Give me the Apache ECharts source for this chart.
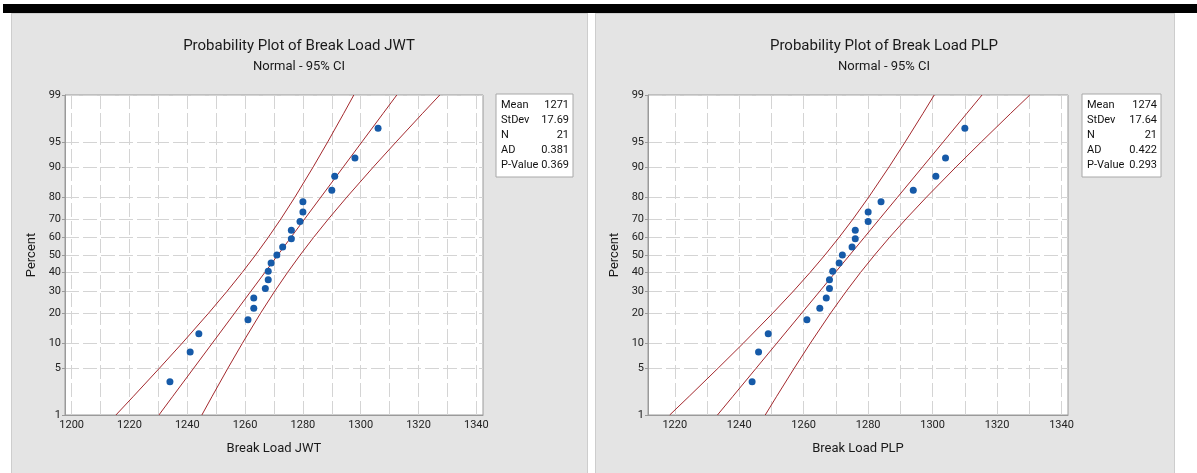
<!DOCTYPE html>
<html>
<head>
<meta charset="utf-8">
<title>Probability Plot of Break Load</title>
<script src="https://cdn.jsdelivr.net/npm/echarts@6/dist/echarts.min.js"></script>
<style>
html, body { margin: 0; padding: 0; background: #fff; }
#wrap { position: relative; width: 1197px; height: 473px; overflow: hidden; }
.bar { position: absolute; left: 3px; top: 4px; width: 1194px; height: 9px; background: #000; }
.panel { position: absolute; top: 13px; height: 470px; background: #e4e4e4; border: 1px solid #cdcdcd; box-sizing: border-box; }
#chart { position: absolute; left: 0; top: 0; width: 1197px; height: 473px; }
</style>
</head>
<body>
<div id="wrap">
  <div class="bar"></div>
  <div class="panel" style="left:11px;width:577px;"></div>
  <div class="panel" style="left:595px;width:580px;"></div>
  <div id="chart"></div>
</div>
<script>
// plotting positions (median rank) for n = 21, in percent
var rankPct = [3.27, 7.94, 12.62, 17.29, 21.96, 26.64, 31.31, 35.98, 40.65, 45.33, 50.00,
               54.67, 59.35, 64.02, 68.69, 73.36, 78.04, 82.71, 87.38, 92.06, 96.73];

// sorted break loads
var jwtLoad = [1234, 1241, 1244, 1261, 1263, 1263, 1267, 1268, 1268, 1269, 1271,
               1273, 1276, 1276, 1279, 1280, 1280, 1290, 1291, 1298, 1306];
var plpLoad = [1244, 1246, 1249, 1261, 1265, 1267, 1268, 1268, 1269, 1271, 1272,
               1275, 1276, 1276, 1280, 1280, 1284, 1294, 1301, 1304, 1310];

// fitted line and 95% CI bands, read at these percents
var bandPct  = [1, 2, 5, 10, 20, 30, 40, 50, 60, 70, 80, 90, 95, 98, 99];
var jwtFit   = [1230.18, 1235.00, 1242.23, 1248.66, 1256.44, 1262.05, 1266.85, 1271.33, 1275.81, 1280.61, 1286.22, 1294.00, 1300.43, 1307.66, 1312.48];
var jwtLower = [1215.32, 1221.39, 1230.39, 1238.24, 1247.46, 1253.82, 1259.01, 1263.61, 1267.97, 1272.38, 1277.24, 1283.58, 1288.59, 1294.05, 1297.62];
var jwtUpper = [1245.04, 1248.61, 1254.07, 1259.08, 1265.42, 1270.28, 1274.69, 1279.05, 1283.65, 1288.84, 1295.20, 1304.42, 1312.27, 1321.27, 1327.34];
var plpFit   = [1233.25, 1238.06, 1245.27, 1251.68, 1259.44, 1265.04, 1269.82, 1274.29, 1278.76, 1283.54, 1289.14, 1296.90, 1303.31, 1310.52, 1315.33];
var plpLower = [1218.43, 1224.49, 1233.46, 1241.29, 1250.48, 1256.83, 1262.00, 1266.59, 1270.94, 1275.33, 1280.18, 1286.51, 1291.50, 1296.95, 1300.51];
var plpUpper = [1248.07, 1251.63, 1257.08, 1262.07, 1268.40, 1273.25, 1277.64, 1281.99, 1286.58, 1291.75, 1298.10, 1307.29, 1315.12, 1324.09, 1330.15];

// axis ticks
var pctTicks   = [1, 5, 10, 20, 30, 40, 50, 60, 70, 80, 90, 95, 99];
var jwtXLabels = [1200, 1220, 1240, 1260, 1280, 1300, 1320, 1340];
var jwtXGrid   = [1200, 1210, 1220, 1230, 1240, 1250, 1260, 1270, 1280, 1290, 1300, 1310, 1320, 1330, 1340];
var plpXLabels = [1220, 1240, 1260, 1280, 1300, 1320, 1340];
var plpXGrid   = [1220, 1230, 1240, 1250, 1260, 1270, 1280, 1290, 1300, 1310, 1320, 1330, 1340];

// summary tables
var statNames = ['Mean', 'StDev', 'N', 'AD', 'P-Value'];
var jwtStats  = ['1271', '17.69', '21', '0.381', '0.369'];
var plpStats  = ['1274', '17.64', '21', '0.422', '0.293'];

var FONT = 'Roboto, "Noto Sans", sans-serif';
var RED = '#a3282d';
var BLUE = '#165aa8';

// inverse standard normal (Acklam) - probability scale for the y axis
function normInv(p) {
  var a = [-3.969683028665376e+01, 2.209460984245205e+02, -2.759285104469687e+02, 1.383577518672690e+02, -3.066479806614716e+01, 2.506628277459239e+00];
  var b = [-5.447609879822406e+01, 1.615858368580409e+02, -1.556989798598866e+02, 6.680131188771972e+01, -1.328068155288572e+01];
  var c = [-7.784894002430293e-03, -3.223964580411365e-01, -2.400758276018191e+00, -2.549732539343734e+00, 4.374664141464968e+00, 2.938163982698783e+00];
  var d = [7.784695709041462e-03, 3.224671290700398e-01, 2.445134137142996e+00, 3.754408661907416e+00];
  var pl = 0.02425, q, r;
  if (p < pl) {
    q = Math.sqrt(-2 * Math.log(p));
    return (((((c[0]*q+c[1])*q+c[2])*q+c[3])*q+c[4])*q+c[5]) / ((((d[0]*q+d[1])*q+d[2])*q+d[3])*q+1);
  }
  if (p > 1 - pl) {
    q = Math.sqrt(-2 * Math.log(1 - p));
    return -(((((c[0]*q+c[1])*q+c[2])*q+c[3])*q+c[4])*q+c[5]) / ((((d[0]*q+d[1])*q+d[2])*q+d[3])*q+1);
  }
  q = p - 0.5; r = q * q;
  return (((((a[0]*r+a[1])*r+a[2])*r+a[3])*r+a[4])*r+a[5])*q / (((((b[0]*r+b[1])*r+b[2])*r+b[3])*r+b[4])*r+1);
}
function z(pct) { return normInv(pct / 100); }

var zTicks = pctTicks.map(z);
var zMin = z(1), zMax = z(99);

function pctLabel(v) {
  for (var i = 0; i < zTicks.length; i++) {
    if (Math.abs(zTicks[i] - v) < 1e-4) return String(pctTicks[i]);
  }
  return '';
}

function pairs(xs, ps) {
  return xs.map(function (x, i) { return [x, z(ps[i])]; });
}

var gridLine = { show: true, lineStyle: { color: '#d4d4d4', width: 1, type: [14, 4] } };
var axisLineStyle = { show: true, onZero: false, lineStyle: { color: '#9a9a9a', width: 1 } };

function makeX(idx, min, max, grid, labels, name) {
  return {
    type: 'value', gridIndex: idx, min: min, max: max,
    name: name, nameLocation: 'middle', nameGap: 27,
    nameTextStyle: { fontFamily: FONT, fontSize: 13, color: '#1a1a1a' },
    axisLine: axisLineStyle,
    axisTick: { show: false, customValues: grid },
    axisLabel: {
      customValues: labels, fontFamily: FONT, fontSize: 11, color: '#222', margin: 5,
      formatter: function (v) { return String(v); }
    },
    splitLine: gridLine
  };
}
function makeY(idx) {
  return {
    type: 'value', gridIndex: idx, min: zMin, max: zMax,
    name: 'Percent', nameLocation: 'middle', nameGap: 27, nameRotate: 90,
    nameTextStyle: { fontFamily: FONT, fontSize: 13, color: '#1a1a1a' },
    axisLine: axisLineStyle,
    axisTick: { show: true, length: 3, customValues: zTicks, lineStyle: { color: '#9a9a9a' } },
    axisLabel: { customValues: zTicks, formatter: pctLabel, fontFamily: FONT, fontSize: 11, color: '#222', margin: 4 },
    splitLine: gridLine
  };
}
function lineSeries(idx, xs) {
  return {
    type: 'line', xAxisIndex: idx, yAxisIndex: idx,
    data: pairs(xs, bandPct), showSymbol: false, silent: true,
    lineStyle: { color: RED, width: 1 }, z: 3
  };
}
function dotSeries(idx, xs) {
  return {
    type: 'scatter', xAxisIndex: idx, yAxisIndex: idx,
    data: pairs(xs, rankPct), symbol: 'circle', symbolSize: 7,
    itemStyle: { color: BLUE, opacity: 1 }, z: 4
  };
}

function statBox(left, top, width, height, values) {
  var els = [{
    type: 'rect', shape: { x: left, y: top, width: width, height: height },
    style: { fill: '#fff', stroke: '#a8a8a8', lineWidth: 1 }
  }];
  statNames.forEach(function (nm, i) {
    var y = top + 11 + i * 15;
    els.push({ type: 'text', x: left + 5, y: y,
      style: { text: nm, font: '11px ' + FONT, fill: '#111', textAlign: 'left', textVerticalAlign: 'middle' } });
    els.push({ type: 'text', x: left + width - 4, y: y,
      style: { text: values[i], font: '11px ' + FONT, fill: '#111', textAlign: 'right', textVerticalAlign: 'middle' } });
  });
  return els;
}
function titleEls(cx, main) {
  return [
    { type: 'text', x: cx, y: 46, style: { text: main, font: '15px ' + FONT, fill: '#1a1a1a', textAlign: 'center', textVerticalAlign: 'middle' } },
    { type: 'text', x: cx, y: 67, style: { text: 'Normal - 95% CI', font: '13px ' + FONT, fill: '#1a1a1a', textAlign: 'center', textVerticalAlign: 'middle' } }
  ];
}

var chart = echarts.init(document.getElementById('chart'), null, { renderer: 'canvas' });
chart.setOption({
  animation: false,
  grid: [
    { left: 65, top: 95, width: 418, height: 320, show: true, backgroundColor: '#fff', borderColor: '#9a9a9a', borderWidth: 1 },
    { left: 648, top: 95, width: 420, height: 320, show: true, backgroundColor: '#fff', borderColor: '#9a9a9a', borderWidth: 1 }
  ],
  xAxis: [
    makeX(0, 1197.7, 1342.3, jwtXGrid, jwtXLabels, 'Break Load JWT'),
    makeX(1, 1211.7, 1342.0, plpXGrid, plpXLabels, 'Break Load PLP')
  ],
  yAxis: [makeY(0), makeY(1)],
  series: [
    lineSeries(0, jwtLower), lineSeries(0, jwtFit), lineSeries(0, jwtUpper), dotSeries(0, jwtLoad),
    lineSeries(1, plpLower), lineSeries(1, plpFit), lineSeries(1, plpUpper), dotSeries(1, plpLoad)
  ],
  graphic: [].concat(
    titleEls(299, 'Probability Plot of Break Load JWT'),
    titleEls(884, 'Probability Plot of Break Load PLP'),
    statBox(496, 94, 77, 83, jwtStats),
    statBox(1082, 94, 79, 83, plpStats)
  )
});
</script>
</body>
</html>
